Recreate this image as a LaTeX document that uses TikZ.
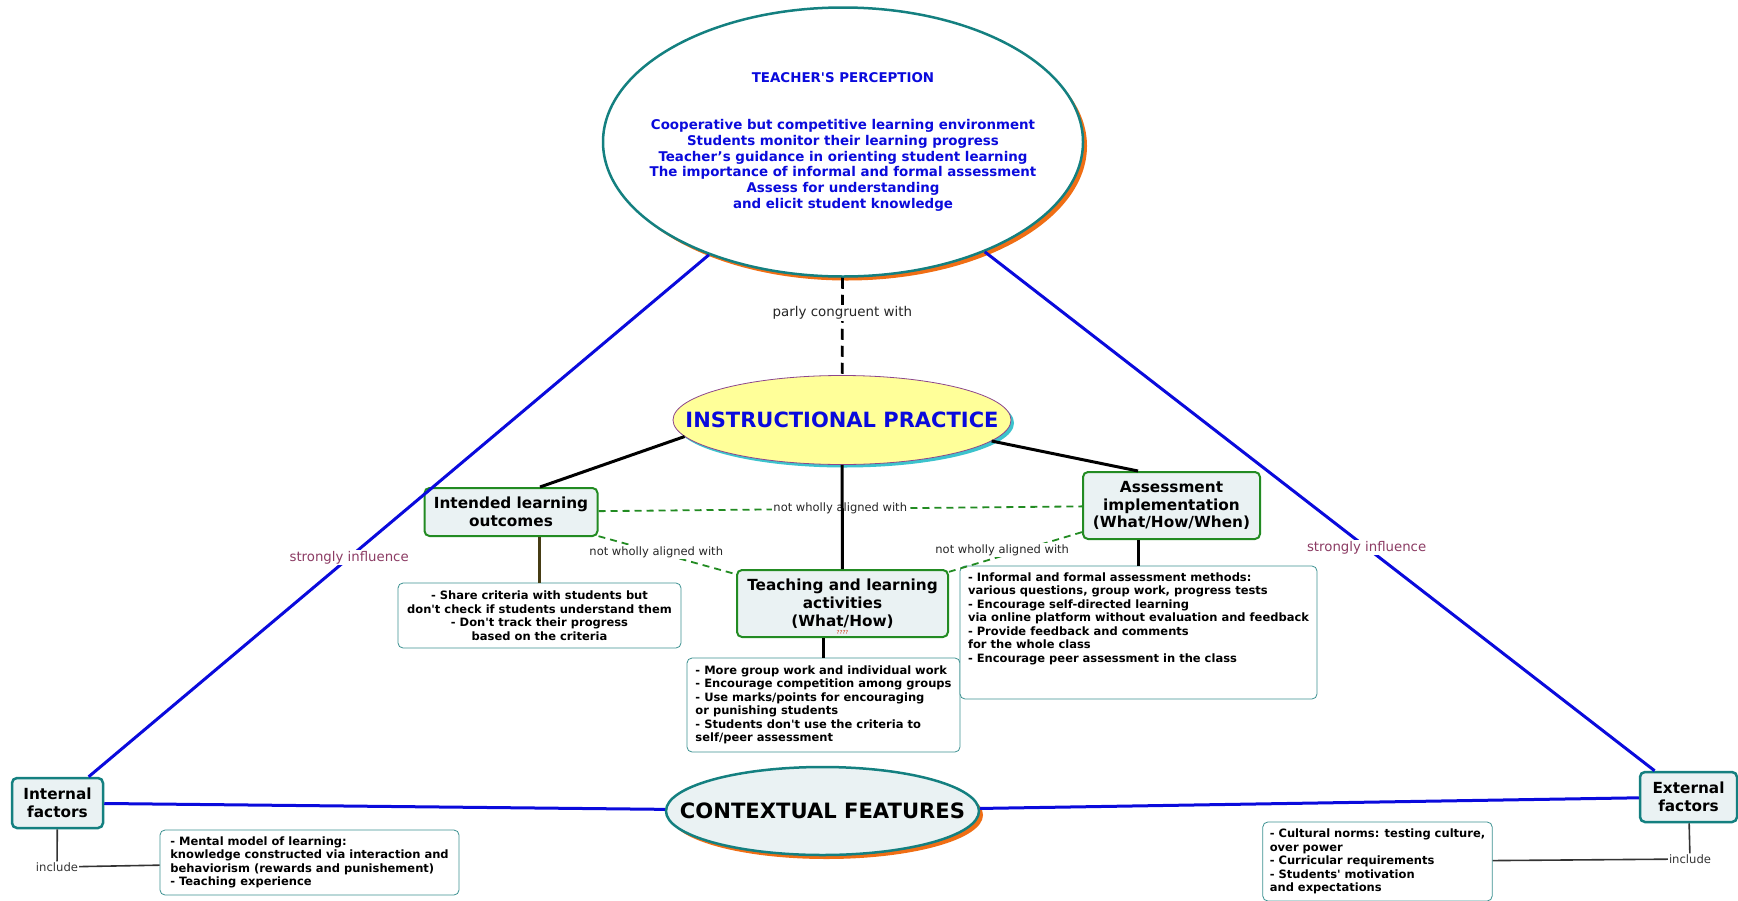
\documentclass[tikz,border=0pt]{standalone}
\usepackage{fontspec}
\setmainfont{DejaVu Sans}[Ligatures=TeXOff]
\usepackage{tikz}
\usetikzlibrary{shapes.geometric}
\usetikzlibrary{shadows}
\definecolor{tealline}{RGB}{20,128,128}
\definecolor{orangeshade}{RGB}{240,110,20}
\definecolor{cyanshade}{RGB}{60,195,205}
\definecolor{paleyellow}{RGB}{255,255,153}
\definecolor{plumline}{RGB}{140,70,140}
\definecolor{palebox}{RGB}{234,242,243}
\definecolor{boxgreen}{RGB}{34,139,34}
\definecolor{notegreen}{RGB}{60,145,145}
\definecolor{mapblue}{RGB}{10,10,220}
\definecolor{influence}{RGB}{140,60,100}
\definecolor{stemline}{RGB}{70,60,20}
\newcommand{\titlesize}{\bfseries\fontsize{15.3}{17.7}\selectfont}
\newcommand{\notesize}{\bfseries\fontsize{11.5}{13.5}\selectfont}
\tikzset{
  bigell/.style={ellipse,inner sep=0pt},
  orangedrop/.style={drop shadow={shadow xshift=4pt,shadow yshift=-4pt,fill=orangeshade,opacity=1}},
  aimbox/.style={rectangle,rounded corners=5pt,draw=boxgreen,line width=2pt,fill=palebox,align=center,inner sep=2pt,font=\titlesize},
  factorbox/.style={rectangle,rounded corners=5pt,draw=tealline,line width=2.5pt,fill=palebox,align=center,inner sep=2pt,font=\titlesize},
  notebox/.style={rectangle,rounded corners=5pt,draw=notegreen,line width=0.8pt,fill=white,inner xsep=7pt,font=\notesize},
  qmark/.style={inner sep=0pt,text={rgb,255:red,200;green,50;blue,10},font=\fontsize{5.5}{5.5}\selectfont},
  inclabel/.style={inner sep=1pt,text=black!80,font=\fontsize{11.6}{13}\selectfont},
  influ/.style={draw=mapblue,line width=3pt},
  inftext/.style={fill=white,inner sep=1pt,text=influence,font=\fontsize{13.3}{15}\selectfont},
  congr/.style={line width=2.7pt,dash pattern=on 11pt off 6pt},
  misalign/.style={draw=boxgreen,line width=1.8pt,dash pattern=on 7pt off 5pt},
  alignlabel/.style={fill=white,inner sep=1.5pt,text=black!85,font=\fontsize{11.5}{13}\selectfont},
  stem/.style={line width=3pt},
  leaf/.style={line width=2.4pt},
  incline/.style={draw=black!80,line width=1.6pt}
}

\begin{document}
\begin{tikzpicture}[x=1pt,y=-1pt]
\useasboundingbox (0,0) rectangle (1738,900);
\node[bigell,draw=tealline,line width=2.5pt,fill=white,orangedrop,minimum width=480pt,minimum height=269pt] (tp) at (843,142) {};
\node[align=center,text=mapblue,font=\bfseries\fontsize{13.4}{15.7}\selectfont] at (tp) {TEACHER'S PERCEPTION\\[31.4pt]
Cooperative but competitive learning environment\\
Students monitor their learning progress\\
Teacher’s guidance in orienting student learning\\
The importance of informal and formal assessment\\
Assess for understanding\\
and elicit student knowledge};
\node[bigell,draw=plumline,line width=0.8pt,fill=paleyellow,drop shadow={shadow xshift=3pt,shadow yshift=-3pt,fill=cyanshade,opacity=1},minimum width=338pt,minimum height=89pt] (ip) at (842,420) {};
\node[text=mapblue,font=\bfseries\fontsize{21}{24}\selectfont] at (ip) {INSTRUCTIONAL PRACTICE};
\node[bigell,draw=tealline,line width=2.5pt,fill=palebox,orangedrop,minimum width=313pt,minimum height=88pt] (cf) at (822.5,811) {};
\node[font=\bfseries\fontsize{21.1}{24}\selectfont] at (cf) {CONTEXTUAL FEATURES};

\node[aimbox,minimum width=173pt,minimum height=48pt] (ilo) at (511,512) {Intended learning\\outcomes};
\node[aimbox,minimum width=211pt,minimum height=67pt] (tla) at (842.5,603.5) {Teaching and learning\\activities\\(What/How)};
\node[qmark] at (842.5,632) {????};
\node[aimbox,minimum width=177pt,minimum height=67pt] (asi) at (1171.5,505.5) {Assessment\\implementation\\(What/How/When)};

\node[notebox,align=center,minimum width=283pt,minimum height=65pt] (ilon) at (539.5,615.5) {- Share criteria with students but\\don't check if students understand them\\- Don't track their progress\\based on the criteria};
\node[notebox,align=left,minimum width=273pt,minimum height=94pt] (tlan) at (823.5,705) {- More group work and individual work\\- Encourage competition among groups\\- Use marks/points for encouraging\\or punishing students\\- Students don't use the criteria to\\self/peer assessment};
\node[notebox,align=left,minimum width=357pt,minimum height=133pt] (asin) at (1138.5,632.5) {- Informal and formal assessment methods:\\various questions, group work, progress tests\\- Encourage self-directed learning\\via online platform without evaluation and feedback\\- Provide feedback and comments\\for the whole class\\- Encourage peer assessment in the class\\[16.5pt]~};

\node[factorbox,minimum width=91pt,minimum height=50pt] (intf) at (57.5,803) {Internal\\factors};
\node[factorbox,minimum width=97pt,minimum height=50pt] (extf) at (1688.5,797) {External\\factors};
\node[notebox,align=left,minimum width=299pt,minimum height=65pt] (intn) at (309.5,862.5) {- Mental model of learning:\\knowledge constructed via interaction and\\behaviorism (rewards and punishement)\\- Teaching experience};
\node[notebox,align=left,minimum width=229pt,minimum height=79pt] (extn) at (1377.5,861.5) {- Cultural norms: testing culture,\\over power\\- Curricular requirements\\- Students' motivation\\and expectations};
\node[inclabel] (intinc) at (57,867) {include};
\node[inclabel] (extinc) at (1690,859) {include};

\draw[influ] (tp) -- node[inftext,pos=0.58] {strongly influence} (intf);
\draw[influ] (tp) -- node[inftext,pos=0.57] {strongly influence} (extf);
\draw[influ] (intf) -- (cf);
\draw[influ] (cf) -- (extf);

\draw[congr] (tp) -- node[pos=0.36,fill=white,inner sep=1.5pt,text=black!85,font=\fontsize{13.4}{15}\selectfont] {parly congruent with} (ip);
\draw[misalign] (ilo) -- node[alignlabel] {not wholly aligned with} (asi);
\draw[misalign] (ilo) -- node[alignlabel,pos=0.42] {not wholly aligned with} (tla);
\draw[misalign] (asi) -- node[alignlabel,pos=0.6,yshift=6pt] {not wholly aligned with} (tla);

\draw[stem] (ip.186) -- ([xshift=29pt]ilo.north);
\draw[stem] (ip) -- (tla);
\draw[stem] (ip.-8) -- ([xshift=-33.5pt]asi.north);
\draw[stem,draw=stemline] (ilon.north) -- (ilon.north |- ilo.south);
\draw[leaf] (tlan.north) -- (tlan.north |- tla.south);
\draw[leaf] (asin.north) -- (asin.north |- asi.south);

\draw[incline] (intf) -- (intinc);
\draw[incline] (intinc) -- (intn);
\draw[incline] (extf) -- (extinc);
\draw[incline] (extinc) -- (extn);
\end{tikzpicture}
\end{document}
